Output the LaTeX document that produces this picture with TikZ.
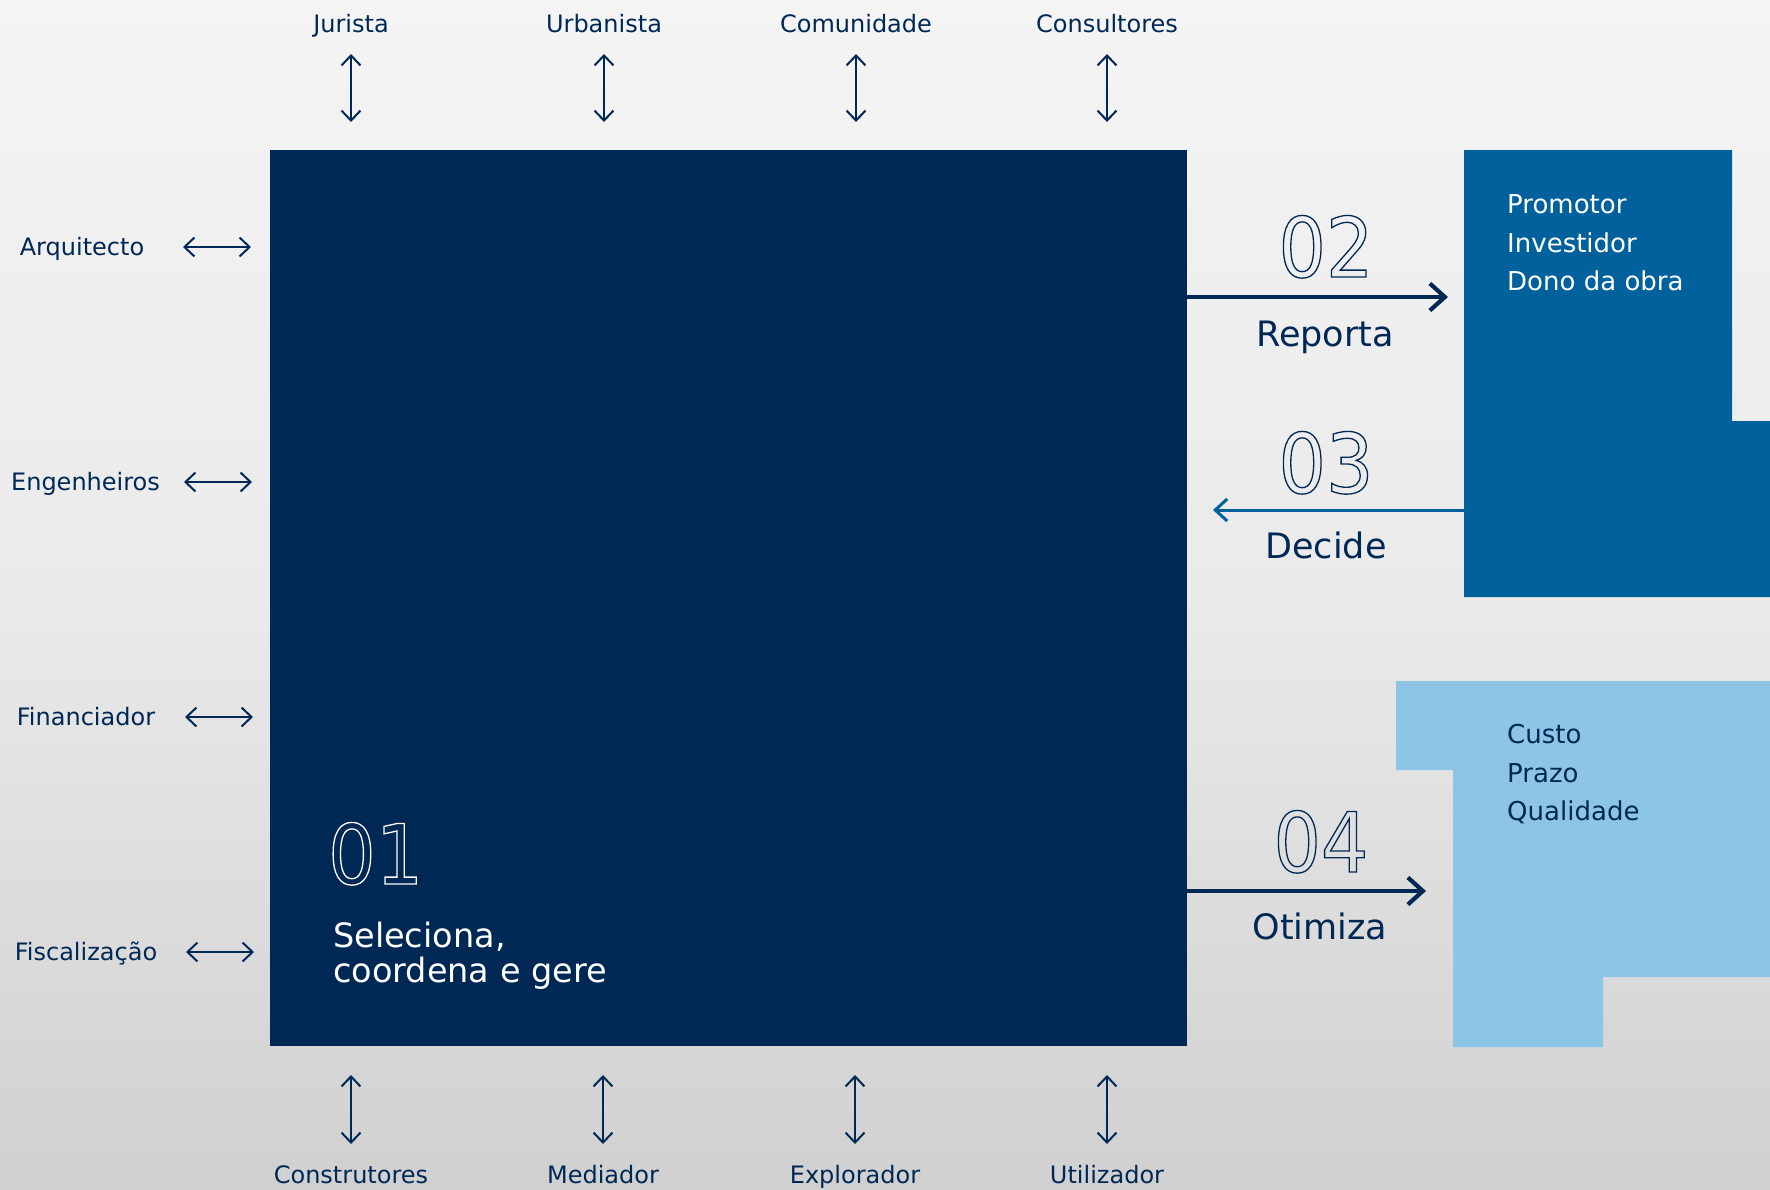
\documentclass[tikz,border=0pt]{standalone}
\usepackage{fontspec}
\setmainfont{DejaVu Sans}
\newfontfamily\numfont[FakeStretch=0.9]{DejaVu Sans}
\usetikzlibrary{arrows.meta}
\definecolor{navy}{RGB}{0,40,85}
\definecolor{midblue}{RGB}{0,97,157}
\definecolor{lightblue}{RGB}{141,197,231}
\definecolor{bgtop}{RGB}{244,244,244}
\definecolor{bgmid}{RGB}{234,234,234}
\definecolor{bgbot}{RGB}{208,208,208}
\newcommand\outlinedtext[1]{\special{pdf:literal direct 1 Tr 1.3 w}#1\special{pdf:literal direct 0 Tr}}
\tikzset{
  lab/.style={text=navy, font=\fontsize{24}{28}\selectfont, inner sep=0pt, anchor=base},
  verb/.style={text=navy, font=\fontsize{35}{40}\selectfont, inner sep=0pt, anchor=base},
  listw/.style={text=white, font=\fontsize{26}{30}\selectfont, inner sep=0pt, anchor=base west},
  listn/.style={text=navy, font=\fontsize{26}{30}\selectfont, inner sep=0pt, anchor=base west},
  mainw/.style={text=white, font=\fontsize{33.5}{36}\selectfont, inner sep=0pt, anchor=base west},
  num/.style={font=\numfont\fontsize{83}{90}\selectfont, inner sep=0pt, anchor=base},
  smallarr/.style={draw=navy, line width=2pt, {Straight Barb[length=10pt,width=19pt]}-{Straight Barb[length=10pt,width=19pt]}},
  bigarr/.style={draw=navy, line width=4.2pt, -{Straight Barb[length=15pt,width=27pt]}},
  midarr/.style={draw=midblue, line width=3pt, -{Straight Barb[length=12pt,width=22pt]}},
}
\begin{document}
\begin{tikzpicture}[x=1pt,y=-1pt]
\useasboundingbox (0,0) rectangle (1770,1189);
\shade[top color=bgtop, bottom color=bgbot, middle color=bgmid] (0,0) rectangle (1770,1189);

% main box
\node[fill=navy, minimum width=917pt, minimum height=896pt, anchor=north west, inner sep=0pt, outer sep=0pt] (main) at (270,150) {};

% right shapes
\fill[midblue] (1464,150) -- (1732,150) -- (1732,421) -- (1770,421) -- (1770,597) -- (1464,597) -- cycle;
\fill[lightblue] (1396,681) -- (1770,681) -- (1770,977) -- (1603,977) -- (1603,1047) -- (1453,1047) -- (1453,770) -- (1396,770) -- cycle;
\coordinate (mid) at (1464,510);
\coordinate (light) at (1453,891);

% top labels
\foreach \n/\t/\x in {jur/Jurista/351, urb/Urbanista/604, com/Comunidade/856, con/Consultores/1107}{
  \node[lab] (\n) at (\x,32) {\t};
  \coordinate (\n a) at (\x,54);
  \coordinate (\n b) at (\x,122);
  \draw[smallarr] (\n a) -- (\n b);
}
% bottom labels
\foreach \n/\t/\x in {cst/Construtores/351, med/Mediador/603, exp/Explorador/855, uti/Utilizador/1107}{
  \node[lab] (\n) at (\x,1183) {\t};
  \coordinate (\n a) at (\x,1075);
  \coordinate (\n b) at (\x,1144);
  \draw[smallarr] (\n a) -- (\n b);
}
% left labels
\foreach \n/\t/\x/\y/\ax in {arq/Arquitecto/82/255/183, eng/Engenheiros/85.5/490/184, fin/Financiador/86/725/185, fis/Fiscaliza\c{c}\~ao/86/960/186}{
  \node[lab] (\n) at (\x,\y) {\t};
  \coordinate (\n a) at (\ax,\y-8);
  \coordinate (\n b) at (\ax+68,\y-8);
  \draw[smallarr] (\n a) -- (\n b);
}

% main text
\node[num, text=white, anchor=base west] (n01) at (328,884) {\outlinedtext{01}};
\node[mainw] (sel1) at (333,947) {Seleciona,};
\node[mainw] (sel2) at (333,982) {coordena e gere};

% 02
\node[num, text=navy] (n02) at (1326,277) {\outlinedtext{02}};
\coordinate (a2s) at (1187,297);
\coordinate (a2e) at (1448,297);
\draw[bigarr] (a2s) -- (a2e);
\node[verb] (rep) at (1325,346) {Reporta};

% 03
\node[num, text=navy] (n03) at (1326,493) {\outlinedtext{03}};
\coordinate (a3e) at (1213,510);
\draw[midarr] (mid) -- (a3e);
\node[verb] (dec) at (1326,558) {Decide};

% 04
\node[num, text=navy] (n04) at (1321,872) {\outlinedtext{04}};
\coordinate (a4s) at (1187,891);
\coordinate (a4e) at (1426,891);
\draw[bigarr] (a4s) -- (a4e);
\node[verb] (oti) at (1320,939) {Otimiza};

% lists
\node[listw] (pro) at (1507,213) {Promotor};
\node[listw] (inv) at (1507,252) {Investidor};
\node[listw] (don) at (1507,290) {Dono da obra};
\node[listn] (cus) at (1507,743) {Custo};
\node[listn] (pra) at (1507,782) {Prazo};
\node[listn] (qua) at (1507,820) {Qualidade};
\end{tikzpicture}
\end{document}
